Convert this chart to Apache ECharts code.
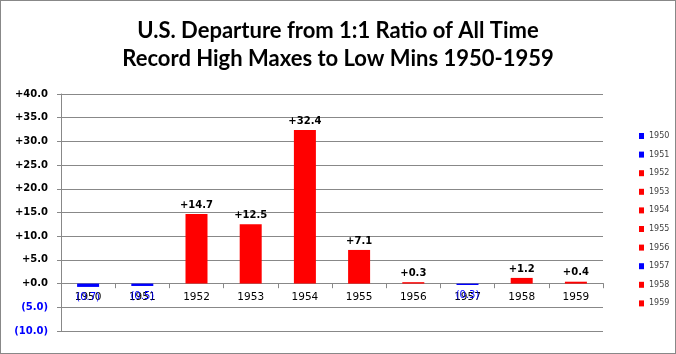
<!DOCTYPE html>
<html>
<head>
<meta charset="utf-8">
<script src="https://cdn.jsdelivr.net/npm/echarts@6/dist/echarts.min.js"></script>
<style>
  html, body { margin: 0; padding: 0; background: #fff; }
  #chart { width: 676px; height: 354px; box-sizing: border-box; border: 1px solid #888; }
</style>
</head>
<body>
<div id="chart"></div>
<script>
// years and departure values
const years = ['1950', '1951', '1952', '1953', '1954', '1955', '1956', '1957', '1958', '1959'];
const departures = [-0.7, -0.5, 14.7, 12.5, 32.4, 7.1, 0.3, -0.3, 1.2, 0.4];
const yTicks = { min: -10, max: 40, step: 5 };

const gridTop = 93, gridBottom = 22, chartH = 354;
// put the category axis on the zero line
const plotH = chartH - gridTop - gridBottom;
const zeroOffset = -plotH * (0 - yTicks.min) / (yTicks.max - yTicks.min);

const chart = echarts.init(document.getElementById('chart'));

function fmt(v) {
  if (v < 0) return '(' + Math.abs(v).toFixed(1) + ')';
  return '+' + v.toFixed(1);
}

// one stacked series per year so the legend lists each year
const series = years.map(function (y, i) {
  const v = departures[i];
  const neg = v < 0;
  const data = years.map(function (_, j) { return j === i ? v : null; });
  return {
    name: y,
    type: 'bar',
    stack: 'all',
    barWidth: 22,
    data: data,
    itemStyle: { color: neg ? '#0000ff' : '#ff0000' },
    label: {
      show: true,
      position: neg ? 'bottom' : 'top',
      distance: neg ? 5 : 4,
      formatter: function (p) { return fmt(p.value); },
      color: neg ? '#0000ff' : '#000',
      fontFamily: 'DejaVu Sans',
      fontWeight: neg ? 'normal' : 'bold',
      fontSize: 10
    }
  };
});

chart.setOption({
  animation: false,
  title: {
    text: 'U.S. Departure from 1:1 Ratio of All Time\nRecord High Maxes to Low Mins 1950-1959',
    left: 'center',
    top: 11,
    textStyle: { fontFamily: 'Lato', fontWeight: 'bold', fontSize: 22, lineHeight: 28, color: '#000' }
  },
  legend: {
    orient: 'vertical',
    left: 633,
    top: 126,
    itemWidth: 5,
    itemHeight: 6,
    itemGap: 10.6,
    icon: 'rect',
    data: years,
    textStyle: { fontSize: 8, color: '#404040', fontFamily: 'DejaVu Sans' }
  },
  grid: { left: 60, right: 72, top: gridTop, bottom: gridBottom },
  xAxis: {
    type: 'category',
    data: years,
    offset: zeroOffset,
    axisLine: { onZero: false, lineStyle: { color: '#888' } },
    axisTick: { show: true, length: 5, lineStyle: { color: '#888' } },
    axisLabel: { margin: 9, color: '#000', fontFamily: 'DejaVu Sans', fontSize: 10.5 }
  },
  yAxis: {
    type: 'value',
    min: yTicks.min,
    max: yTicks.max,
    interval: yTicks.step,
    axisLine: { show: true, lineStyle: { color: '#888' } },
    axisTick: { show: true, length: 4, lineStyle: { color: '#888' } },
    splitLine: { lineStyle: { color: '#888' } },
    axisLabel: {
      margin: 13,
      fontFamily: 'DejaVu Sans',
      fontWeight: 'bold',
      fontSize: 10,
      formatter: fmt,
      color: function (v) { return Number(v) < 0 ? '#0000ff' : '#000'; }
    }
  },
  series: series
});
</script>
</body>
</html>
